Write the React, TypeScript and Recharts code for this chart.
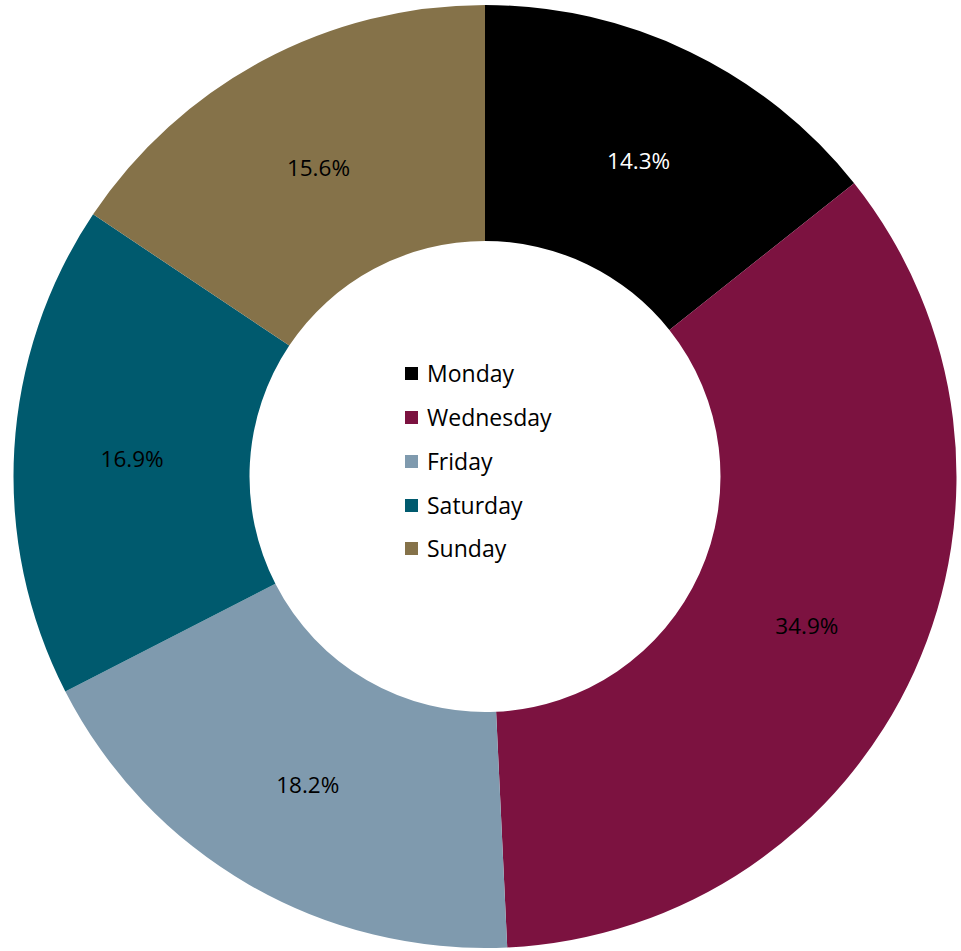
import React from "react";
import { Legend, Pie, PieChart, Cell } from "recharts";

const days = ["Monday", "Wednesday", "Friday", "Saturday", "Sunday"];
const shares = [14.3, 34.9, 18.2, 16.9, 15.6];
const colors = ["#000000", "#7C1240", "#7F9AAE", "#005A6E", "#857249"];
const labelColors = ["#ffffff", "#000000", "#000000", "#000000", "#000000"];

const FONT = "'Open Sans', 'Noto Sans', sans-serif";

const rows = days.map((day, i) => ({ day, share: shares[i] }));

const RAD = Math.PI / 180;

function renderLabel(props: any) {
  const { cx, cy, midAngle, innerRadius, outerRadius, index } = props;
  const r = (innerRadius + outerRadius) / 2;
  const x = cx + r * Math.cos(-midAngle * RAD);
  const y = cy + r * Math.sin(-midAngle * RAD);
  return (
    <text
      x={x}
      y={y + 2.5}
      fill={labelColors[index]}
      textAnchor="middle"
      dominantBaseline="central"
      fontSize={22.5}
      fontFamily={FONT}
    >
      {shares[index].toFixed(1)}%
    </text>
  );
}

function CenterLegend() {
  return (
    <div style={{ fontFamily: FONT, fontSize: 23, color: "#000", lineHeight: 1 }}>
      {days.map((d, i) => (
        <div key={d} style={{ display: "flex", alignItems: "center", height: 43.75 }}>
          <span
            style={{
              display: "inline-block",
              width: 13,
              height: 13,
              background: colors[i],
              marginRight: 9,
            }}
          />
          <span>{d}</span>
        </div>
      ))}
    </div>
  );
}

export default function App() {
  return (
    <div style={{ position: "absolute", left: 0, top: 0, background: "#fff" }}>
      <PieChart width={961} height={951} margin={{ top: 0, right: 0, bottom: 0, left: 0 }}>
        <Pie
          data={rows}
          dataKey="share"
          nameKey="day"
          cx={485}
          cy={476.5}
          innerRadius={235.5}
          outerRadius={471.5}
          startAngle={90}
          endAngle={-270}
          stroke="none"
          label={renderLabel}
          labelLine={false}
          isAnimationActive={false}
        >
          {rows.map((r, i) => (
            <Cell key={r.day} fill={colors[i]} />
          ))}
        </Pie>
        <Legend
          content={() => <CenterLegend />}
          wrapperStyle={{ position: "absolute", left: 405, top: 352, width: 200 }}
        />
      </PieChart>
    </div>
  );
}
